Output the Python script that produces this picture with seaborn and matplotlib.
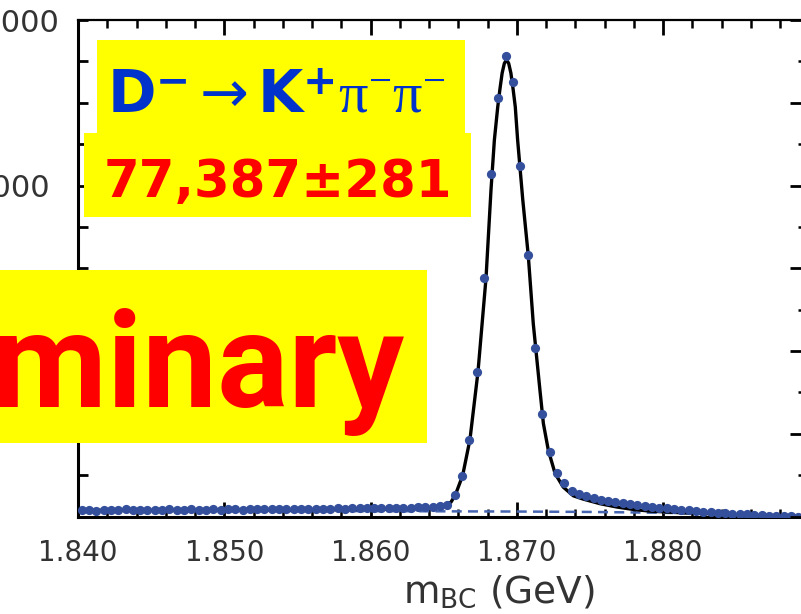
import numpy as np
import pandas as pd
import matplotlib
matplotlib.use("Agg")
import matplotlib.pyplot as plt
import seaborn as sns
from matplotlib.patches import Rectangle
from matplotlib.ticker import FixedLocator, MultipleLocator, FuncFormatter

# ---------------- data ----------------
bin_start = 1.840          # GeV, first bin low edge
bin_width = 0.0005         # GeV
counts = [
    150, 160, 145, 165, 155, 150, 170, 160, 150, 165,
    160, 155, 170, 165, 160, 175, 160, 165, 170, 160,
    170, 175, 165, 180, 170, 175, 180, 170, 185, 175,
    180, 185, 175, 190, 185, 195, 190, 200, 195, 205,
    200, 205, 210, 205, 210, 215, 220, 225, 235, 250,
    280, 520, 990, 1850, 3500, 5770, 8280, 10120, 11130, 10490,
    8460, 6320, 4070, 2480, 1550, 1050, 800, 620, 545, 500,
    450, 400, 370, 343, 320, 300, 290, 260, 230, 210,
    195, 180, 165, 150, 135, 120, 110, 95, 85, 70,
    60, 50, 40, 25, 15, 10, 5, 5, 0, 0,
]
bin_centers = bin_start + bin_width * (np.arange(len(counts)) + 0.5)

fit_mass = [1.8400, 1.8450, 1.8500, 1.8550, 1.8600, 1.8620, 1.8635, 1.8645,
            1.8650, 1.8655, 1.8658, 1.8663, 1.8668, 1.86735, 1.8679, 1.86824,
            1.86847, 1.8687, 1.86885, 1.8690, 1.86915, 1.8693, 1.86945, 1.8696,
            1.86975, 1.8699, 1.87006, 1.87041, 1.87079, 1.87113, 1.87159, 1.87182,
            1.87216, 1.87262, 1.87318, 1.87387, 1.87455, 1.87569, 1.87683, 1.87797,
            1.87911, 1.8810, 1.8830, 1.8850, 1.8865, 1.8880, 1.8900]
fit_counts = [150, 152, 155, 160, 170, 182, 200, 225,
              265, 345, 520, 990, 1860, 3500, 5770, 7900,
              9100, 9900, 10330, 10715, 10950, 11040, 10950, 10715,
              10330, 9900, 9100, 7660, 6300, 4660, 3040, 2250,
              1600, 1040, 710, 500, 420, 310, 230, 170,
              130, 95, 70, 45, 25, 15, 10]

bg_mass = [1.840, 1.850, 1.860, 1.870, 1.875, 1.880, 1.883, 1.885, 1.886, 1.8865, 1.890]
bg_counts = [135, 135, 130, 120, 110, 90, 65, 40, 20, 0, 0]

xtick_values = [1.840, 1.850, 1.860, 1.870, 1.880, 1.890]
xtick_labels = ["1.840", "1.850", "1.860", "1.870", "1.880", ""]
ytick_labeled = {8000: "8000", 12000: "12000"}

title_text = (r"$\mathbf{D}^{\mathbf{-}}\mathsf{\rightarrow}\mathbf{K}^{\mathbf{+}}"
              r"\mathrm{\pi}^{-}\mathrm{\pi}^{-}$")
yield_text = "77,387\u00b1281"
prelim_text = "Preliminary"

data_df = pd.DataFrame({"m": bin_centers, "n": counts})
fit_df = pd.DataFrame({"m": fit_mass, "n": fit_counts})
bg_df = pd.DataFrame({"m": bg_mass, "n": bg_counts})

# ---------------- style ----------------
sns.set_theme(style="white")
plt.rcParams["font.family"] = ["DejaVu Sans"]
plt.rcParams["mathtext.fontset"] = "custom"
plt.rcParams["mathtext.bf"] = "DejaVu Sans:bold"
plt.rcParams["mathtext.rm"] = "Liberation Serif"
plt.rcParams["mathtext.it"] = "Liberation Serif:italic"
plt.rcParams["mathtext.sf"] = "DejaVu Sans"

W, H = 801, 614
fig = plt.figure(figsize=(W / 100, H / 100), dpi=100)
fig.patch.set_facecolor("white")

def fx(x):
    return x / W

def fy(y):
    return 1 - y / H

ax_l, ax_r, ax_t, ax_b = 78, 809.25, 20, 516.5
ax = fig.add_axes([fx(ax_l), fy(ax_b), (ax_r - ax_l) / W, (ax_b - ax_t) / H])
ax.set_facecolor("white")

sns.lineplot(data=bg_df, x="m", y="n", ax=ax, color="#4565b0", lw=1.8,
             linestyle=(0, (4, 2.5)), zorder=2)
sns.lineplot(data=fit_df, x="m", y="n", ax=ax, color="black", lw=2.4, zorder=3)
sns.scatterplot(data=data_df, x="m", y="n", ax=ax, color="#34509c", s=44,
                linewidth=0, zorder=4, legend=False)

ax.set_xlim(1.840, 1.890)
ax.set_ylim(0, 12000)

ax.xaxis.set_major_locator(FixedLocator(xtick_values))
ax.xaxis.set_major_formatter(FuncFormatter(
    lambda v, p: xtick_labels[int(round((v - 1.840) / 0.01))] if 0 <= round((v - 1.840) / 0.01) < len(xtick_labels) else ""))
ax.xaxis.set_minor_locator(MultipleLocator(0.002))
ax.yaxis.set_major_locator(MultipleLocator(1000))
ax.yaxis.set_major_formatter(FuncFormatter(lambda v, p: ytick_labeled.get(int(round(v)), "")))

ax.tick_params(axis="x", which="major", direction="in", length=10.8, width=2.0,
               top=True, bottom=True, labelsize=20, pad=16,
               labelcolor="#333333", color="black")
ax.tick_params(axis="x", which="minor", direction="in", length=5.5, width=1.8,
               top=True, bottom=True, color="black")
ax.tick_params(axis="y", which="major", direction="in", length=7.2, width=2.0,
               left=True, right=False, labelsize=22, pad=48,
               labelcolor="#333333", color="black")
for lab in ax.get_yticklabels():
    lab.set_horizontalalignment("center")

for side, lw in [("left", 2.2), ("bottom", 2.2), ("top", 1.6), ("right", 1.8)]:
    ax.spines[side].set_visible(True)
    ax.spines[side].set_color("black")
    ax.spines[side].set_linewidth(lw)

# right-hand tick marks
twin = ax.twinx()
twin.set_ylim(0, 12000)
twin.yaxis.set_major_locator(MultipleLocator(2000))
twin.yaxis.set_minor_locator(MultipleLocator(1000))
twin.tick_params(axis="y", which="major", direction="in", length=13.7, width=2.0,
                 labelright=False, color="black")
twin.tick_params(axis="y", which="minor", direction="in", length=8, width=1.8,
                 color="black")
for s in twin.spines.values():
    s.set_visible(False)
twin.set_ylabel("")

ax.set_ylabel("")
ax.set_xlabel(r"$\mathsf{m}_{\mathsf{BC}}$ (GeV)", fontsize=27, color="#333333")
ax.xaxis.set_label_coords((499 - ax_l) / (ax_r - ax_l), (ax_b - 603) / (ax_b - ax_t))
ax.xaxis.label.set_verticalalignment("baseline")

# ---------------- overlay boxes & texts ----------------
def box(x0, y0, x1, y1):
    fig.add_artist(Rectangle((fx(x0), fy(y1)), (x1 - x0) / W, (y1 - y0) / H,
                             transform=fig.transFigure, facecolor="#ffff00",
                             edgecolor="none", zorder=5))

box(97, 40, 465, 133)
box(84, 133, 471, 217)
box(-5, 270, 427, 443)

fig.text(fx(276), fy(112), title_text, color="#0033cc", fontsize=42,
         ha="center", va="baseline", zorder=6)
fig.text(fx(278), fy(197), yield_text, color="#ff0000", fontsize=37,
         fontweight="bold", family=["DejaVu Sans"], ha="center", va="baseline", zorder=6)
fig.text(fx(405), fy(407), prelim_text, color="#ff0000", fontsize=96,
         fontweight="bold", family=["Roboto", "DejaVu Sans"], ha="right",
         va="baseline", zorder=6)

fig.savefig("out.png", dpi=100, facecolor="white")
